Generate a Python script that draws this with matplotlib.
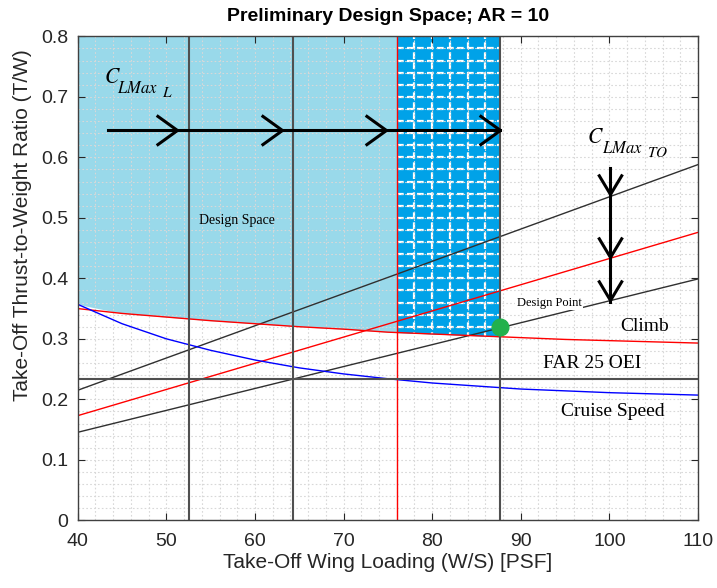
import numpy as np
import matplotlib
matplotlib.use('Agg')
import matplotlib.pyplot as plt
from matplotlib.path import Path
from matplotlib.ticker import MultipleLocator
from matplotlib.transforms import offset_copy

plt.rcParams['font.family'] = ['Liberation Sans', 'DejaVu Sans']
plt.rcParams['mathtext.fontset'] = 'stix'

# wing loading samples (PSF) and read-off constraint curves
ws = [40, 45, 50, 55, 60, 65, 70, 75, 80, 85, 90, 95, 100, 105, 110]
climb = [0.350, 0.342, 0.336, 0.330, 0.325, 0.320, 0.316, 0.311,
         0.308, 0.305, 0.302, 0.299, 0.297, 0.295, 0.293]
cruise = [0.357, 0.325, 0.300, 0.281, 0.265, 0.252, 0.242, 0.234,
          0.227, 0.222, 0.217, 0.214, 0.211, 0.209, 0.207]

# take-off lines (end points at W/S = 40 and 110)
to_ends = [40, 110]
to_clmax_hi = [0.215, 0.588]
to_clmax_mid = [0.173, 0.476]
to_clmax_lo = [0.1455, 0.399]

landing_ws = [52.6, 64.3, 87.7]
landing_ws_red = 76.0
far25_oei = 0.2335
design_pt = (87.7, 0.3195)

arrow_y = 0.645
arrow_x = [43.45, 87.6]
arrow_heads_x = [51.2, 63.0, 74.8, 87.6]
down_x = 100.1
down_y = [0.583, 0.361]
down_heads_y = [0.540, 0.436, 0.364]

light_blue = '#99D9EA'
dark_blue = '#00A2E8'
line_gray = '#505050'

fig = plt.figure(figsize=(7.17, 5.88), dpi=100)
ax = fig.add_axes([0.1084, 0.1151, 0.8651, 0.8231])

ws_a = np.array(ws, dtype=float)
bottom = np.maximum(climb, cruise)

# light shaded design space (up to red landing line)
xl = np.append(ws_a[ws_a < landing_ws_red], landing_ws_red)
yl = np.interp(xl, ws_a, bottom)
ax.fill_between(xl, yl, 0.8, color=light_blue, lw=0, zorder=0.2)

# dark shaded region between red line and design point
xd = np.concatenate([[landing_ws_red], ws_a[(ws_a > landing_ws_red) & (ws_a < design_pt[0])], [design_pt[0]]])
yd = np.interp(xd, ws_a, climb)
dark = ax.fill_between(xd, yd, 0.8, color=dark_blue, lw=0, zorder=0.25)
clip = dark.get_paths()[0]
for gx in np.arange(78, 87, 2):
    l, = ax.plot([gx, gx], [0.25, 0.8], color='white', lw=1.6, ls=(0, (3, 1.5)), zorder=0.3)
    l.set_clip_path(clip, ax.transData)
for gy in np.arange(0.30, 0.80, 0.02):
    l, = ax.plot([landing_ws_red, design_pt[0]], [gy, gy], color='white', lw=1.6, ls=(0, (3, 1.5)), zorder=0.3)
    l.set_clip_path(clip, ax.transData)

# constraint lines
ax.plot(to_ends, to_clmax_hi, color='#303030', lw=1.0)
ax.plot(to_ends, to_clmax_mid, color='red', lw=1.0)
ax.plot(to_ends, to_clmax_lo, color='#303030', lw=1.0)
ax.plot(ws, climb, color='red', lw=1.0)
ax.plot(ws, cruise, color='blue', lw=1.0)
for x in landing_ws:
    ax.axvline(x, color=line_gray, lw=1.5)
ax.axvline(landing_ws_red, color='red', lw=1.0)
ax.axhline(far25_oei, color=line_gray, lw=1.5)

# arrows with open chevrons
right_chev = Path([(-1, 0.72), (0, 0), (-1, -0.72)], [Path.MOVETO, Path.LINETO, Path.LINETO])
down_chev = Path([(-0.6, 1), (0, 0), (0.6, 1)], [Path.MOVETO, Path.LINETO, Path.LINETO])
ax.plot(arrow_x, [arrow_y, arrow_y], color='black', lw=2.2, zorder=4)
ax.plot(arrow_heads_x, [arrow_y] * len(arrow_heads_x), ls='none', marker=right_chev,
        ms=30, mew=2.2, mec='black', fillstyle='none', zorder=4)
ax.plot([down_x, down_x], down_y, color='black', lw=2.2, zorder=4)
ax.plot([down_x] * len(down_heads_y), down_heads_y, ls='none', marker=down_chev,
        ms=28.8, mew=2.2, mec='black', fillstyle='none', zorder=4)

ax.plot(*design_pt, 'o', color='#22B14C', ms=12, zorder=5)

# annotations
serif = ['Liberation Serif', 'DejaVu Serif']
ax.text(58.0, 0.496, 'Design Space', family=serif, fontsize=10, ha='center', va='center')
ax.text(93.2, 0.3597, 'Design Point', family=serif, fontsize=9, ha='center', va='center',
        bbox=dict(facecolor='white', edgecolor='none', pad=1), zorder=3)
ax.text(104.0, 0.321, 'Climb', family=serif, fontsize=14, ha='center', va='center')
ax.text(98.1, 0.2595, 'FAR 25 OEI', family=serif, fontsize=14, ha='center', va='center')
ax.text(100.4, 0.1795, 'Cruise Speed', family=serif, fontsize=14, ha='center', va='center')


def clmax_label(x, y, last, gap):
    # C with two levels of subscripts, sized like the equation-editor original
    ax.text(x, y, r'$C$', fontsize=15.5, ha='left', va='baseline', zorder=6)
    tr = offset_copy(ax.transData, fig=fig, x=gap, y=-10, units='dots')
    ax.text(x, y, r'$LMax$', transform=tr, fontsize=12, ha='left', va='baseline', zorder=6)
    tr = offset_copy(ax.transData, fig=fig, x=gap + 45, y=-13.4, units='dots')
    ax.text(x, y, '$' + last + '$', transform=tr, fontsize=11, ha='left', va='baseline', zorder=6)


clmax_label(42.97, 0.7223, 'L', 13)
clmax_label(97.45, 0.623, 'TO', 15)

ax.set_xlim(40, 110)
ax.set_ylim(0, 0.8)
ax.xaxis.set_major_locator(MultipleLocator(10))
ax.xaxis.set_minor_locator(MultipleLocator(2))
ax.yaxis.set_minor_locator(MultipleLocator(0.02))
ax.set_yticks(np.arange(0, 0.81, 0.1))
ax.set_yticklabels(['0', '0.1', '0.2', '0.3', '0.4', '0.5', '0.6', '0.7', '0.8'])
ax.set_axisbelow(True)
ax.grid(which='both', color='#d8d8d8', ls=(0, (1.5, 2)), lw=0.8)
ax.tick_params(which='major', direction='in', top=True, right=True, length=5,
               labelsize=14, colors='#262626')
ax.tick_params(axis='x', which='major', pad=9)
ax.tick_params(axis='y', which='major', pad=7)
ax.tick_params(which='minor', length=0)
for s in ax.spines.values():
    s.set_color('#404040')
    s.set_linewidth(1.0)

ax.set_title('Preliminary Design Space; AR = 10', fontsize=14, fontweight='bold', pad=11)
ax.set_xlabel('Take-Off Wing Loading (W/S) [PSF]', fontsize=15, color='#262626')
ax.set_ylabel('Take-Off Thrust-to-Weight Ratio (T/W)', fontsize=15, color='#262626')
ax.xaxis.set_label_coords(0.5, -0.0676)
ax.yaxis.set_label_coords(-0.0737, 0.61)

fig.savefig('out.png', dpi=100)
